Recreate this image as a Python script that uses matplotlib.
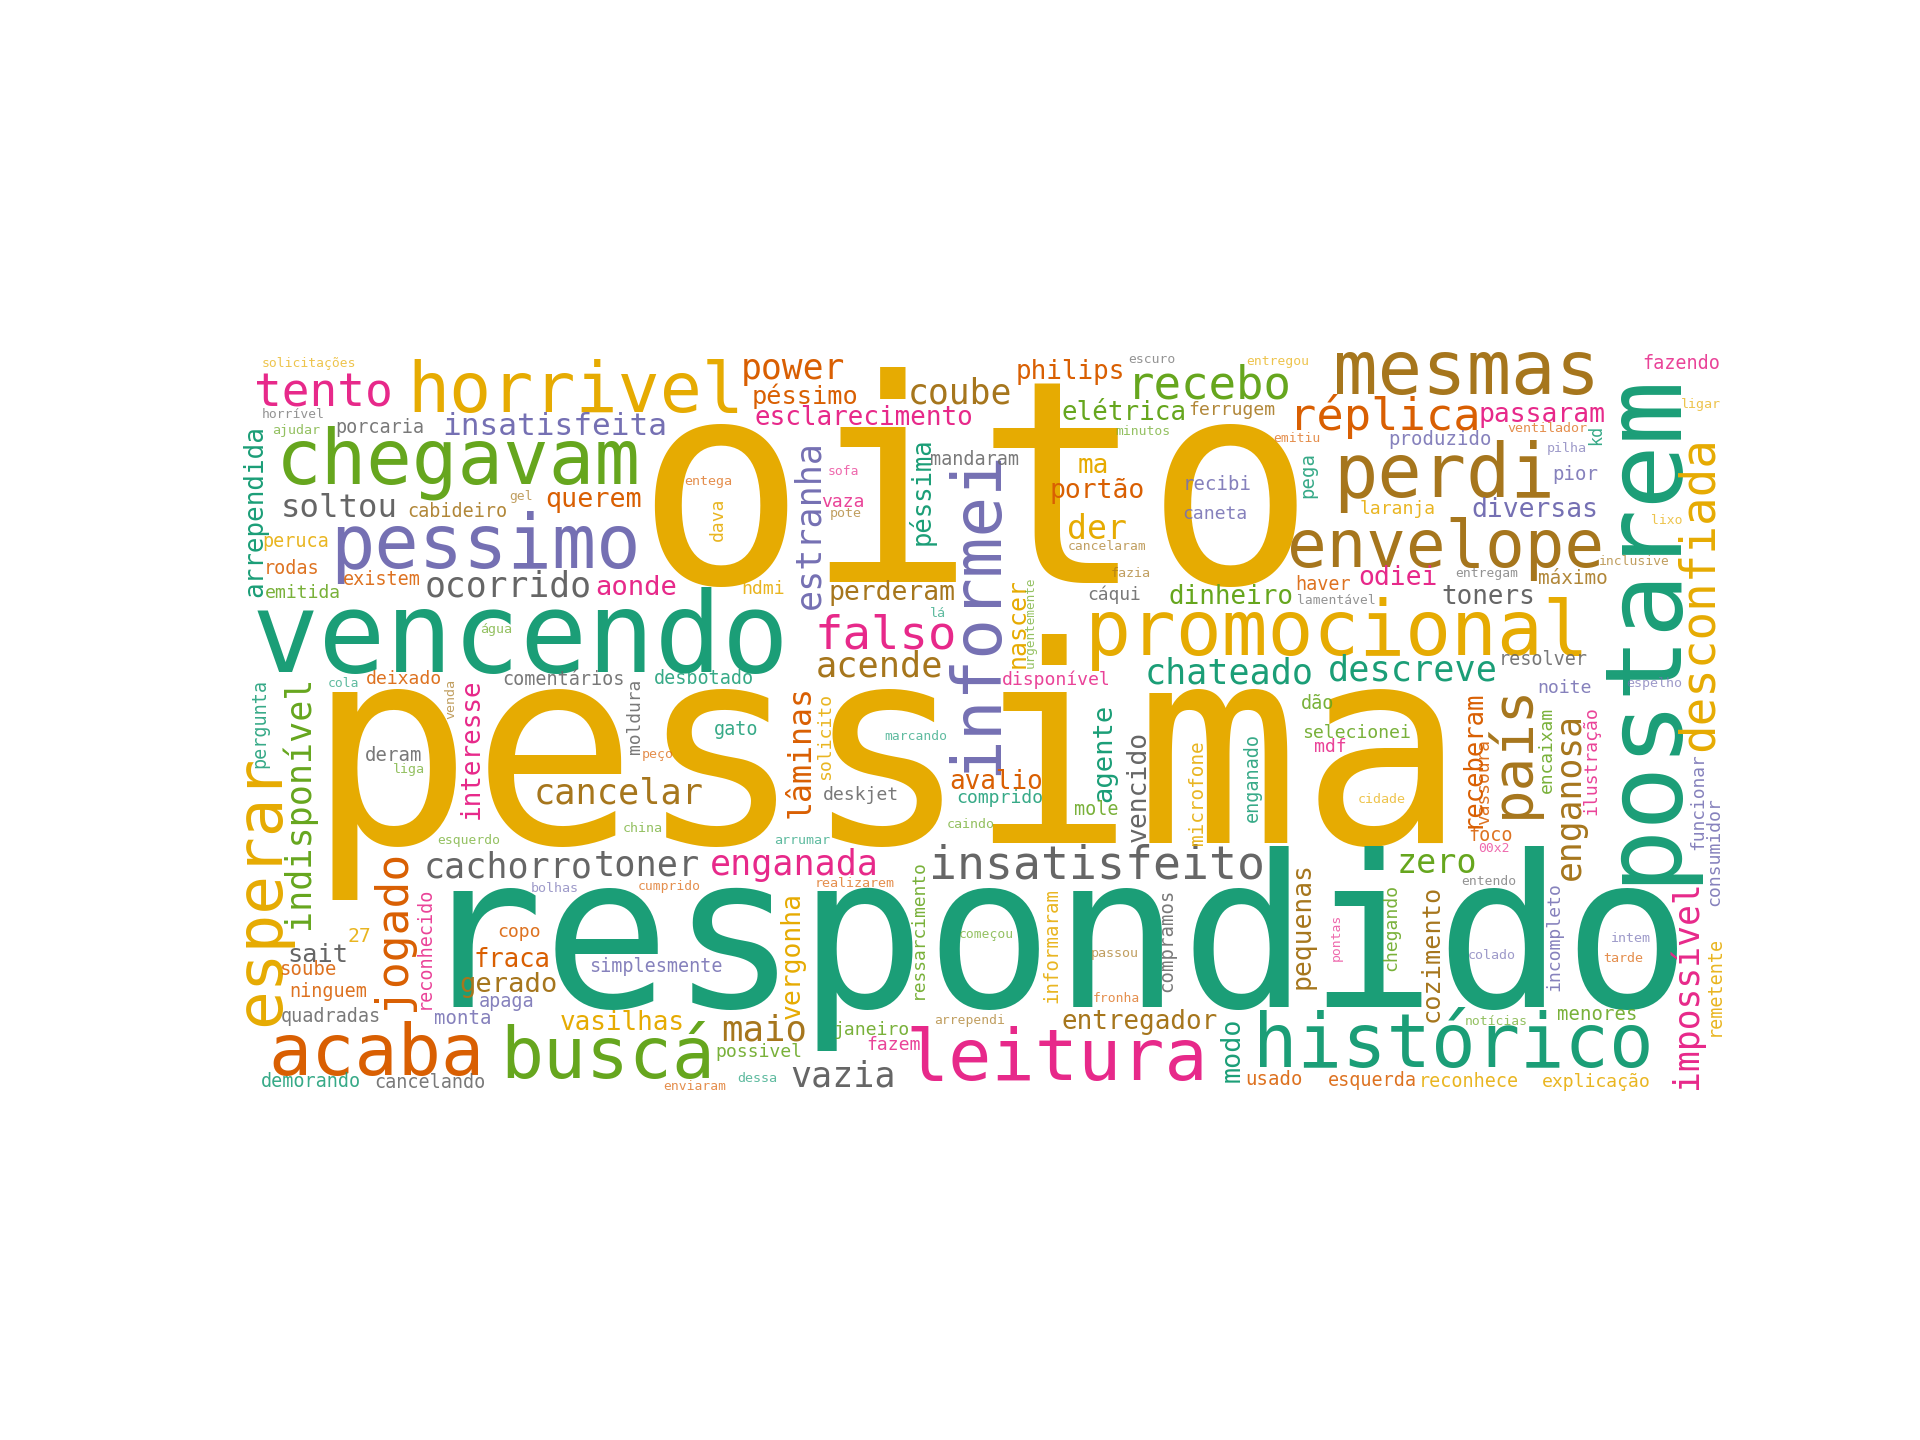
import matplotlib.pyplot as plt

# ---------- word cloud: words and their relative weights ----------
words = [
    # large
    'pessima', 'oito', 'respondido', 'vencendo', 'postarem', 'promocional',
    'chegavam', 'perdi', 'mesmas', 'histórico', 'pessimo', 'leitura', 'acaba',
    'buscá', 'horrivel', 'informei', 'envelope', 'esperar', 'país',
    'desconfiada', 'falso', 'insatisfeito', 'tento', 'recebo', 'réplica',
    'jogado',
    # medium
    'maio', 'cancelar', 'descreve', 'acende', 'toner', 'cachorro',
    'indisponível', 'enganada', 'chateado', 'estranha', 'vazia', 'ocorrido',
    'power', 'coube', 'impossível', 'enganosa', 'zero', 'der', 'soltou',
    'lâminas', 'insatisfeita',
    # ~7
    'esclarecimento', 'péssimo', 'philips', 'elétrica', 'passaram', 'diversas',
    'odiei', 'toners', 'dinheiro', 'perderam', 'portão', 'ma', 'querem',
    'aonde', 'arrependida', 'interesse', 'sait', 'fraca', 'gerado', 'vasilhas',
    'vergonha', 'avalio', 'agente', 'vencido', 'pequenas', 'entregador', 'modo',
    'cozimento', 'receberam', 'péssima', 'nascer',
    # ~5
    'porcaria', 'cabideiro', 'peruca', 'rodas', 'existem', 'emitida',
    'comentários', 'deixado', 'pergunta', 'deram', '27', 'soube', 'ninguem',
    'copo', 'apaga', 'monta', 'quadradas', 'demorando', 'cancelando',
    'simplesmente', 'reconhecido', 'gato', 'moldura', 'solicito', 'deskjet',
    'ressarcimento', 'janeiro', 'fazem', 'possivel', 'comprido', 'desbotado',
    'hdmi', 'dava', 'vaza', 'mandaram', 'ferrugem', 'pega', 'recibi', 'caneta',
    'haver', 'cáqui', 'disponível', 'dão', 'fazendo', 'kd', 'produzido', 'pior',
    'laranja', 'máximo', 'resolver', 'noite', 'encaixam', 'ilustração',
    'vassoura', 'selecionei', 'mdf', 'foco', 'chegando', 'incompleto',
    'funcionar', 'consumidor', 'remetente', 'menores', 'reconhece', 'explicação',
    'esquerda', 'usado', 'mole', 'microfone', 'enganado', 'informaram',
    'compramos',
    # smallest
    'solicitações', 'horrível', 'ajudar', 'gel', 'água', 'cola', 'venda', 'liga',
    'esquerdo', 'bolhas', 'peço', 'china', 'arrumar', 'marcando', 'caindo',
    'cumprido', 'realizarem', 'começou', 'arrependi', 'dessa', 'enviaram',
    'entega', 'sofa', 'pote', 'lá', 'escuro', 'entregou', 'minutos', 'emitiu',
    'cancelaram', 'fazia', 'lamentável', 'urgentemente', 'ligar', 'ventilador',
    'pilha', 'lixo', 'inclusive', 'entregam', 'espelho', 'cidade', '00x2',
    'entendo', 'colado', 'intem', 'tarde', 'notícias', 'passou', 'fronha',
    'pontas',
]

freq = [
    74, 76, 57, 30, 28.7, 20.5,
    20.4, 19.8, 19.9, 19.9, 19.8, 19.3, 19.3,
    19.2, 18.8, 18.2, 17.7, 17.3, 15,
    12.8, 12.7, 12.5, 12.4, 12.3, 12.2,
    12,
    9.6, 9.5, 9.5, 9.5, 9.5, 9.4,
    9.4, 9.4, 9.4, 9.4, 9.4, 9.3,
    9.3, 9.3, 9.3, 9.3, 9.0, 8.9, 8.7,
    8.5, 8.4,
    7.0, 6.8, 7.0, 7.0, 7.1, 7.1,
    7.1, 7.0, 7.0, 7.1, 7.1, 7.0, 7.2,
    7.3, 7.0, 7.0, 6.8, 6.9, 7.3, 7.0,
    7.1, 7.0, 7.3, 7.1, 7.1, 7.0, 7.2,
    6.8, 6.9, 6.9, 6.7,
    5.0, 5.0, 5.0, 5.0, 5.0, 4.9,
    5.0, 4.9, 5.0, 5.1, 5.3, 5.1, 5.0,
    4.9, 5.0, 5.1, 5.0, 5.0, 5.0,
    5.0, 5.0, 5.0, 4.8, 4.9, 4.9,
    4.8, 4.9, 4.9, 4.9, 4.9, 5.0,
    4.9, 4.9, 4.9, 5.0, 4.9, 5.1, 5.1, 4.9,
    5.0, 4.8, 4.9, 5.0, 5.0, 4.5, 5.1, 5.1,
    4.9, 5.2, 5.0, 4.9, 4.8, 4.9,
    4.8, 4.9, 4.9, 5.0, 4.9, 4.9,
    4.8, 4.9, 5.0, 5.1, 5.0, 4.9,
    5.0, 5.1, 5.0, 5.2, 5.0, 5.1,
    5.1,
    3.5, 3.5, 3.6, 3.5, 3.6, 3.5, 3.6, 3.6,
    3.5, 3.6, 3.6, 3.6, 3.6, 3.5, 3.6,
    3.5, 3.6, 3.5, 3.5, 3.6, 3.5,
    3.6, 3.5, 3.6, 3.6, 3.5, 3.5, 3.5, 3.5,
    3.5, 3.6, 3.5, 3.4, 3.6, 3.6,
    3.6, 3.5, 3.5, 3.5, 3.6, 3.6, 3.5,
    3.5, 3.6, 3.6, 3.6, 3.5, 3.6, 3.5,
    3.5,
]

# ---------- layout on a 400 x 200 canvas: (x, y, vertical, colour) ----------
# horizontal words: x = centre, y = baseline; vertical words: x = baseline, y = centre
Y, T, O, P, K, G, B, Gr = ('#e6ab02', '#1b9e77', '#d95f02', '#7570b3',
                           '#e7298a', '#66a61e', '#a6761d', '#666666')
layout = [
    (173.9, 131.0, 0, Y), (197.7, 61.3, 0, Y), (218.6, 175.3, 0, T),
    (75.3, 85.1, 0, T), (385.0, 73.0, 1, T), (295.0, 80.6, 0, Y),
    (58.7, 34.5, 0, G), (323.7, 38.1, 0, B), (329.8, 10.3, 0, B),
    (326.2, 191.4, 0, T), (66.1, 57.3, 0, P), (219.6, 194.9, 0, K),
    (36.7, 193.5, 0, O),
    (98.8, 194.2, 0, G), (90.2, 15.3, 0, Y), (203.3, 69.0, 1, P),
    (324.0, 57.0, 0, B), (10.6, 143.9, 1, Y), (346.3, 106.2, 1, B),
    (396.0, 64.0, 1, Y), (173.7, 78.9, 0, K), (230.5, 140.6, 0, Gr),
    (22.4, 13.9, 0, K), (260.5, 11.7, 0, G), (307.8, 20.1, 0, O),
    (44.4, 154.6, 1, O),
    # medium
    (140.9, 184.1, 0, B), (101.7, 120.4, 0, B), (315.4, 87.4, 0, T),
    (171.9, 86.5, 0, B), (109.4, 140.0, 0, Gr), (72.1, 140.5, 0, Gr),
    (18.5, 120.1, 1, G), (148.9, 139.8, 0, K), (265.9, 88.3, 0, T),
    (155.7, 45.5, 1, P), (162.0, 196.7, 0, Gr), (72.1, 65.0, 0, Gr),
    (148.7, 6.3, 0, O), (193.6, 13.0, 0, B), (391.6, 169.1, 1, K),
    (360.2, 118.5, 1, B), (321.7, 139.3, 0, G), (230.5, 49.3, 0, Y),
    (26.7, 43.5, 0, Gr),
    (153.2, 106.6, 1, O), (84.7, 21.5, 0, P),
    # ~7
    (167.8, 18.8, 0, K), (151.9, 13.0, 0, O), (223.1, 6.3, 0, O),
    (237.7, 17.5, 0, G), (349.9, 17.9, 0, K), (348.1, 43.5, 0, P),
    (311.2, 61.8, 0, K), (335.6, 66.8, 0, Gr), (266.4, 66.8, 0, G),
    (175.4, 65.9, 0, B), (230.5, 38.5, 0, O), (229.4, 31.8, 0, Y),
    (95.0, 40.8, 0, O),
    (106.5, 64.5, 0, K), (6.1, 41.9, 1, T), (64.1, 105.8, 1, K),
    (20.8, 163.1, 0, Gr), (73.2, 164.4, 0, O), (72.1, 171.1, 0, B),
    (102.8, 181.5, 0, Y),
    (150.5, 161.3, 1, Y), (203.2, 116.5, 0, O), (234.3, 107.0, 1, T),
    (243.5, 115.8, 1, Gr), (287.6, 153.2, 1, B), (241.9, 181.0, 0, B),
    (268.8, 186.6, 1, T),
    (322.1, 160.7, 1, B), (333.3, 108.4, 1, O), (185.3, 36.5, 1, T),
    (211.0, 71.9, 1, Y),
    # ~5
    (37.6, 20.9, 0, Gr), (58.5, 43.5, 0, B), (15.0, 51.5, 0, Y),
    (13.9, 58.7, 0, O), (38.1, 61.8, 0, O), (16.8, 65.4, 0, G),
    (86.9, 88.7, 0, Gr), (44.1, 88.3, 0, O), (6.7, 99.0, 1, T),
    (41.4, 109.1, 0, Gr), (32.0, 157.7, 0, Y), (18.1, 166.7, 0, O),
    (23.7, 172.5, 0, O),
    (75.0, 156.4, 0, O), (71.7, 175.2, 0, P), (59.8, 179.7, 0, P),
    (24.4, 179.2, 0, Gr), (19.0, 196.7, 0, T), (51.1, 197.1, 0, Gr),
    (111.8, 165.8, 0, P), (51.1, 159.3, 1, K), (133.5, 102.1, 0, T),
    (107.5, 97.0, 1, Gr), (158.6, 102.4, 1, Y), (166.9, 119.6, 0, Gr),
    (183.7, 154.2, 1, G), (169.6, 182.8, 0, G), (175.7, 186.8, 0, K),
    (139.5, 188.6, 0, G), (204.1, 120.5, 0, T), (124.8, 88.3, 0, T),
    (140.5, 64.1, 0, Y), (129.7, 44.1, 1, Y), (162.0, 40.8, 0, K),
    (197.4, 29.6, 0, Gr), (266.6, 16.1, 0, B), (288.5, 32.2, 1, T),
    (262.7, 36.3, 0, P), (262.1, 43.9, 0, P),
    (291.2, 63.2, 0, O), (235.0, 65.9, 0, Gr), (219.3, 88.7, 0, K),
    (289.7, 95.0, 0, G), (387.5, 3.6, 0, K), (366.0, 21.5, 1, T),
    (322.6, 24.2, 0, P), (358.9, 33.6, 0, P),
    (311.2, 42.6, 0, Y), (358.4, 61.4, 0, B), (350.3, 83.3, 0, Gr),
    (356.0, 90.7, 0, P), (352.6, 106.0, 1, G), (364.7, 109.0, 1, K),
    (335.8, 114.7, 1, O), (300.0, 103.0, 0, G), (293.2, 106.6, 0, K),
    (336.2, 130.6, 0, O), (310.9, 153.9, 1, G), (354.7, 156.4, 1, P),
    (393.4, 119.9, 1, P), (397.7, 133.5, 1, P), (397.7, 169.6, 1, Y),
    (364.9, 178.8, 0, G), (330.4, 196.7, 0, Y), (364.5, 196.7, 0, Y),
    (304.5, 196.5, 0, O), (278.0, 196.2, 0, O), (230.3, 123.7, 0, G),
    (258.8, 117.6, 1, Y), (273.7, 113.6, 1, T), (219.7, 158.6, 1, Y),
    (250.7, 157.2, 1, Gr),
    # smallest
    (18.5, 3.3, 0, Y), (14.2, 17.0, 0, Gr), (15.2, 21.1, 0, G),
    (75.5, 39.0, 0, B), (68.8, 74.8, 0, G), (27.8, 89.2, 0, T),
    (57.5, 92.5, 1, B), (45.5, 112.3, 0, G),
    (61.6, 131.3, 0, G), (84.7, 144.3, 0, P), (112.3, 108.4, 0, O),
    (108.2, 128.1, 0, G), (151.2, 131.3, 0, T), (181.7, 103.5, 0, T),
    (196.4, 127.2, 0, G),
    (115.4, 143.8, 0, O), (165.1, 142.9, 0, O), (200.7, 156.8, 0, G),
    (196.0, 179.7, 0, B), (139.1, 195.3, 0, T), (122.3, 197.6, 0, O),
    (125.9, 35.0, 0, O), (162.2, 32.3, 0, K), (162.8, 43.5, 0, B),
    (187.6, 70.3, 0, T), (245.2, 2.2, 0, Gr), (278.9, 2.7, 0, Y),
    (242.8, 21.5, 0, G), (284.2, 23.3, 0, O),
    (233.0, 52.4, 0, B), (239.5, 59.6, 0, B), (294.8, 66.8, 0, Gr),
    (213.5, 71.7, 1, G), (392.7, 14.3, 0, Y), (351.4, 20.6, 0, O),
    (356.6, 26.0, 0, P), (383.5, 45.3, 0, Y), (374.8, 56.5, 0, B),
    (335.2, 59.6, 0, Gr), (380.2, 89.2, 0, P), (306.9, 120.5, 0, Y),
    (337.0, 133.5, 0, K),
    (335.8, 142.5, 0, Gr), (336.4, 162.2, 0, P), (373.8, 157.7, 0, P),
    (371.8, 163.1, 0, O), (337.6, 180.1, 0, G), (235.2, 161.7, 0, B),
    (235.5, 173.8, 0, O),
    (295.5, 156.5, 1, K),
]

# ---------- canvas ----------
fig, ax = plt.subplots(figsize=(6.4, 4.8), dpi=300)
ax.set_xlim(0, 400)
ax.set_ylim(200, 0)
ax.set_aspect('equal')
ax.axis('off')

# one canvas pixel in points (axes is width-limited)
pt_per_px = fig.get_figwidth() * ax.get_position().width * 72 / 400

for w, f, (x, y, vert, c) in zip(words, freq, layout):
    # tiny words look paler in the upscaled original
    a = 0.7 if f < 4 else (0.88 if f < 6 else 1.0)
    ax.text(
        x, y, w,
        fontsize=f * pt_per_px,
        family='DejaVu Sans Mono',
        color=c,
        alpha=a,
        rotation=90 if vert else 0,
        rotation_mode='anchor',
        ha='center', va='baseline'
    )

fig.savefig('out.png', dpi=300)
